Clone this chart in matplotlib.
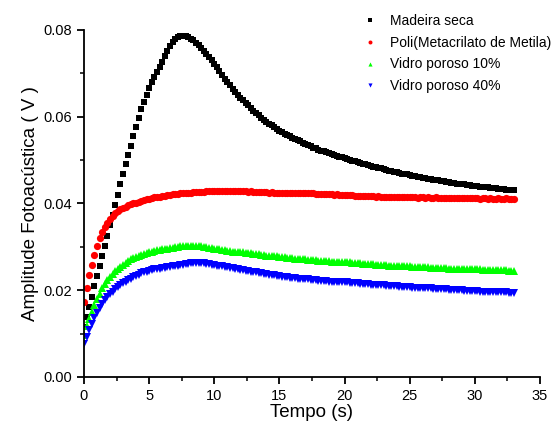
# Amplitude fotoacustica x tempo - quatro amostras
import numpy as np
import matplotlib
matplotlib.use("Agg")
import matplotlib.pyplot as plt
from matplotlib.ticker import MultipleLocator, FormatStrFormatter

plt.rcParams["font.family"] = ["Liberation Sans", "DejaVu Sans"]

# =========================================
# DADOS (passo de 0.2 s)
# =========================================
tempo = np.round(np.arange(0, 33.01, 0.2), 1)

madeira_seca = [
    0.0115, 0.0138, 0.0162, 0.0185, 0.0209, 0.0232, 0.0256, 0.0279, 0.0303, 0.0326,
    0.0350, 0.0373, 0.0397, 0.0420, 0.0444, 0.0467, 0.0490, 0.0512, 0.0533, 0.0555,
    0.0576, 0.0597, 0.0617, 0.0635, 0.0651, 0.0666, 0.0679, 0.0691, 0.0703, 0.0715,
    0.0727, 0.0739, 0.0751, 0.0762, 0.0773, 0.0780, 0.0784, 0.0786, 0.0786, 0.0785,
    0.0783, 0.0780, 0.0776, 0.0771, 0.0765, 0.0759, 0.0752, 0.0745, 0.0738, 0.0730,
    0.0722, 0.0714, 0.0705, 0.0697, 0.0688, 0.0680, 0.0672, 0.0664, 0.0657, 0.0650,
    0.0644, 0.0638, 0.0632, 0.0626, 0.0620, 0.0614, 0.0608, 0.0603, 0.0598, 0.0593,
    0.0588, 0.0584, 0.0580, 0.0576, 0.0572, 0.0568, 0.0565, 0.0561, 0.0558, 0.0555,
    0.0552, 0.0549, 0.0546, 0.0543, 0.0540, 0.0537, 0.0535, 0.0532, 0.0529, 0.0527,
    0.0524, 0.0522, 0.0520, 0.0518, 0.0516, 0.0514, 0.0512, 0.0510, 0.0508, 0.0506,
    0.0504, 0.0502, 0.0500, 0.0498, 0.0497, 0.0495, 0.0493, 0.0492, 0.0490, 0.0488,
    0.0487, 0.0485, 0.0484, 0.0482, 0.0481, 0.0479, 0.0478, 0.0476, 0.0475, 0.0473,
    0.0472, 0.0471, 0.0469, 0.0468, 0.0467, 0.0465, 0.0464, 0.0463, 0.0462, 0.0461,
    0.0459, 0.0458, 0.0457, 0.0456, 0.0455, 0.0454, 0.0453, 0.0452, 0.0451, 0.0450,
    0.0449, 0.0448, 0.0447, 0.0446, 0.0446, 0.0445, 0.0444, 0.0443, 0.0442, 0.0441,
    0.0441, 0.0440, 0.0439, 0.0438, 0.0438, 0.0437, 0.0436, 0.0435, 0.0435, 0.0434,
    0.0433, 0.0433, 0.0432, 0.0431, 0.0431, 0.0430,
]

pmma = [
    0.0173, 0.0205, 0.0235, 0.0258, 0.0282, 0.0303, 0.0320, 0.0334, 0.0346, 0.0356,
    0.0365, 0.0372, 0.0378, 0.0383, 0.0387, 0.0390, 0.0393, 0.0396, 0.0398, 0.0400,
    0.0402, 0.0404, 0.0406, 0.0408, 0.0410, 0.0411, 0.0412, 0.0414, 0.0415, 0.0416,
    0.0417, 0.0418, 0.0419, 0.0420, 0.0421, 0.0422, 0.0422, 0.0423, 0.0424, 0.0424,
    0.0425, 0.0425, 0.0426, 0.0426, 0.0427, 0.0427, 0.0427, 0.0428, 0.0428, 0.0428,
    0.0428, 0.0429, 0.0428, 0.0429, 0.0429, 0.0428, 0.0429, 0.0428, 0.0428, 0.0429,
    0.0428, 0.0428, 0.0428, 0.0427, 0.0428, 0.0427, 0.0427, 0.0426, 0.0427, 0.0426,
    0.0426, 0.0425, 0.0426, 0.0425, 0.0425, 0.0424, 0.0425, 0.0424, 0.0424, 0.0424,
    0.0424, 0.0423, 0.0424, 0.0423, 0.0423, 0.0424, 0.0423, 0.0423, 0.0423, 0.0422,
    0.0422, 0.0422, 0.0421, 0.0422, 0.0421, 0.0421, 0.0420, 0.0421, 0.0420, 0.0420,
    0.0420, 0.0419, 0.0419, 0.0419, 0.0418, 0.0418, 0.0418, 0.0417, 0.0418, 0.0417,
    0.0417, 0.0417, 0.0416, 0.0417, 0.0416, 0.0416, 0.0416, 0.0415, 0.0416, 0.0415,
    0.0415, 0.0415, 0.0414, 0.0415, 0.0414, 0.0415, 0.0414, 0.0414, 0.0413, 0.0414,
    0.0414, 0.0413, 0.0414, 0.0413, 0.0413, 0.0414, 0.0413, 0.0413, 0.0412, 0.0413,
    0.0413, 0.0412, 0.0413, 0.0413, 0.0412, 0.0413, 0.0412, 0.0412, 0.0413, 0.0412,
    0.0412, 0.0412, 0.0411, 0.0412, 0.0412, 0.0411, 0.0412, 0.0411, 0.0411, 0.0412,
    0.0411, 0.0411, 0.0412, 0.0411, 0.0411, 0.0411,
]

vidro_10 = [
    0.0096, 0.0117, 0.0134, 0.0150, 0.0165, 0.0179, 0.0192, 0.0204, 0.0214, 0.0223,
    0.0231, 0.0238, 0.0244, 0.0249, 0.0254, 0.0259, 0.0263, 0.0267, 0.0271, 0.0274,
    0.0277, 0.0280, 0.0282, 0.0284, 0.0286, 0.0288, 0.0289, 0.0291, 0.0292, 0.0293,
    0.0294, 0.0295, 0.0296, 0.0297, 0.0298, 0.0299, 0.0300, 0.0301, 0.0302, 0.0302,
    0.0303, 0.0303, 0.0303, 0.0303, 0.0302, 0.0301, 0.0300, 0.0299, 0.0298, 0.0297,
    0.0296, 0.0295, 0.0294, 0.0293, 0.0292, 0.0291, 0.0290, 0.0289, 0.0289, 0.0288,
    0.0287, 0.0287, 0.0286, 0.0285, 0.0285, 0.0284, 0.0283, 0.0283, 0.0282, 0.0281,
    0.0280, 0.0280, 0.0279, 0.0278, 0.0278, 0.0277, 0.0276, 0.0276, 0.0275, 0.0275,
    0.0274, 0.0273, 0.0273, 0.0272, 0.0271, 0.0271, 0.0270, 0.0270, 0.0269, 0.0269,
    0.0268, 0.0268, 0.0267, 0.0267, 0.0267, 0.0266, 0.0266, 0.0266, 0.0265, 0.0265,
    0.0265, 0.0264, 0.0264, 0.0263, 0.0263, 0.0262, 0.0262, 0.0261, 0.0261, 0.0260,
    0.0260, 0.0260, 0.0259, 0.0259, 0.0258, 0.0258, 0.0258, 0.0257, 0.0257, 0.0257,
    0.0256, 0.0256, 0.0256, 0.0255, 0.0255, 0.0255, 0.0254, 0.0254, 0.0254, 0.0253,
    0.0253, 0.0253, 0.0253, 0.0252, 0.0252, 0.0252, 0.0251, 0.0251, 0.0251, 0.0251,
    0.0250, 0.0250, 0.0250, 0.0250, 0.0249, 0.0249, 0.0249, 0.0249, 0.0248, 0.0248,
    0.0248, 0.0248, 0.0248, 0.0247, 0.0247, 0.0247, 0.0247, 0.0247, 0.0246, 0.0246,
    0.0246, 0.0246, 0.0246, 0.0245, 0.0245, 0.0245,
]

vidro_40 = [
    0.0075, 0.0093, 0.0108, 0.0122, 0.0136, 0.0148, 0.0159, 0.0169, 0.0177, 0.0185,
    0.0191, 0.0197, 0.0202, 0.0207, 0.0212, 0.0216, 0.0220, 0.0224, 0.0227, 0.0230,
    0.0233, 0.0236, 0.0239, 0.0241, 0.0243, 0.0245, 0.0246, 0.0248, 0.0249, 0.0250,
    0.0251, 0.0252, 0.0253, 0.0254, 0.0255, 0.0256, 0.0257, 0.0258, 0.0259, 0.0260,
    0.0261, 0.0262, 0.0262, 0.0263, 0.0263, 0.0263, 0.0262, 0.0261, 0.0260, 0.0259,
    0.0258, 0.0257, 0.0256, 0.0255, 0.0254, 0.0253, 0.0252, 0.0251, 0.0250, 0.0248,
    0.0247, 0.0246, 0.0245, 0.0244, 0.0243, 0.0242, 0.0241, 0.0240, 0.0239, 0.0238,
    0.0237, 0.0236, 0.0235, 0.0234, 0.0233, 0.0232, 0.0231, 0.0231, 0.0230, 0.0229,
    0.0229, 0.0228, 0.0227, 0.0227, 0.0226, 0.0225, 0.0225, 0.0224, 0.0223, 0.0223,
    0.0222, 0.0222, 0.0221, 0.0221, 0.0220, 0.0220, 0.0220, 0.0219, 0.0219, 0.0219,
    0.0218, 0.0218, 0.0217, 0.0217, 0.0216, 0.0216, 0.0215, 0.0215, 0.0214, 0.0214,
    0.0213, 0.0213, 0.0212, 0.0212, 0.0211, 0.0211, 0.0210, 0.0210, 0.0210, 0.0209,
    0.0209, 0.0208, 0.0208, 0.0208, 0.0207, 0.0207, 0.0206, 0.0206, 0.0206, 0.0205,
    0.0205, 0.0204, 0.0204, 0.0204, 0.0203, 0.0203, 0.0203, 0.0202, 0.0202, 0.0202,
    0.0201, 0.0201, 0.0201, 0.0200, 0.0200, 0.0200, 0.0199, 0.0199, 0.0199, 0.0198,
    0.0198, 0.0198, 0.0197, 0.0197, 0.0197, 0.0197, 0.0196, 0.0196, 0.0196, 0.0195,
    0.0195, 0.0195, 0.0195, 0.0194, 0.0194, 0.0194,
]

# =========================================
# PLOT
# =========================================
fig = plt.figure(figsize=(5.54, 4.30), dpi=100)
ax = fig.add_axes([0.1516, 0.1233, 0.8231, 0.8070])

ax.plot(tempo, madeira_seca, "s", color="black", ms=5.0, mew=0,
        label="Madeira seca")
ax.plot(tempo, pmma, "o", color="#ff0000", ms=5.2, mew=0,
        label="Poli(Metacrilato de Metila)")
ax.plot(tempo, vidro_10, "^", color="#00ff00", ms=5.4, mew=0,
        label="Vidro poroso 10%")
ax.plot(tempo, vidro_40, "v", color="#0000ff", ms=5.4, mew=0,
        label="Vidro poroso 40%")

ax.set_xlim(0, 35)
ax.set_ylim(0, 0.08)
ax.xaxis.set_major_locator(MultipleLocator(5))
ax.xaxis.set_minor_locator(MultipleLocator(2.5))
ax.yaxis.set_major_locator(MultipleLocator(0.02))
ax.yaxis.set_minor_locator(MultipleLocator(0.01))
ax.yaxis.set_major_formatter(FormatStrFormatter("%.2f"))

for side in ["top", "right"]:
    ax.spines[side].set_visible(False)
for side in ["left", "bottom"]:
    ax.spines[side].set_linewidth(1.3)

ax.tick_params(which="major", direction="out", length=5, width=1.3,
               labelsize=10.5)
ax.tick_params(which="minor", direction="out", length=3, width=1.1)

ax.set_xlabel("Tempo (s)", fontsize=13.5, labelpad=1)
ax.set_ylabel("Amplitude Fotoacústica ( V )", fontsize=13.5, labelpad=3)

ax.legend(loc="upper left", bbox_to_anchor=(0.648, 0.98),
          bbox_transform=fig.transFigure, frameon=False, fontsize=10,
          handlelength=0.8, handletextpad=1.0, labelspacing=0.55,
          markerscale=0.55, borderaxespad=0)

fig.savefig("out.png", dpi=100)
